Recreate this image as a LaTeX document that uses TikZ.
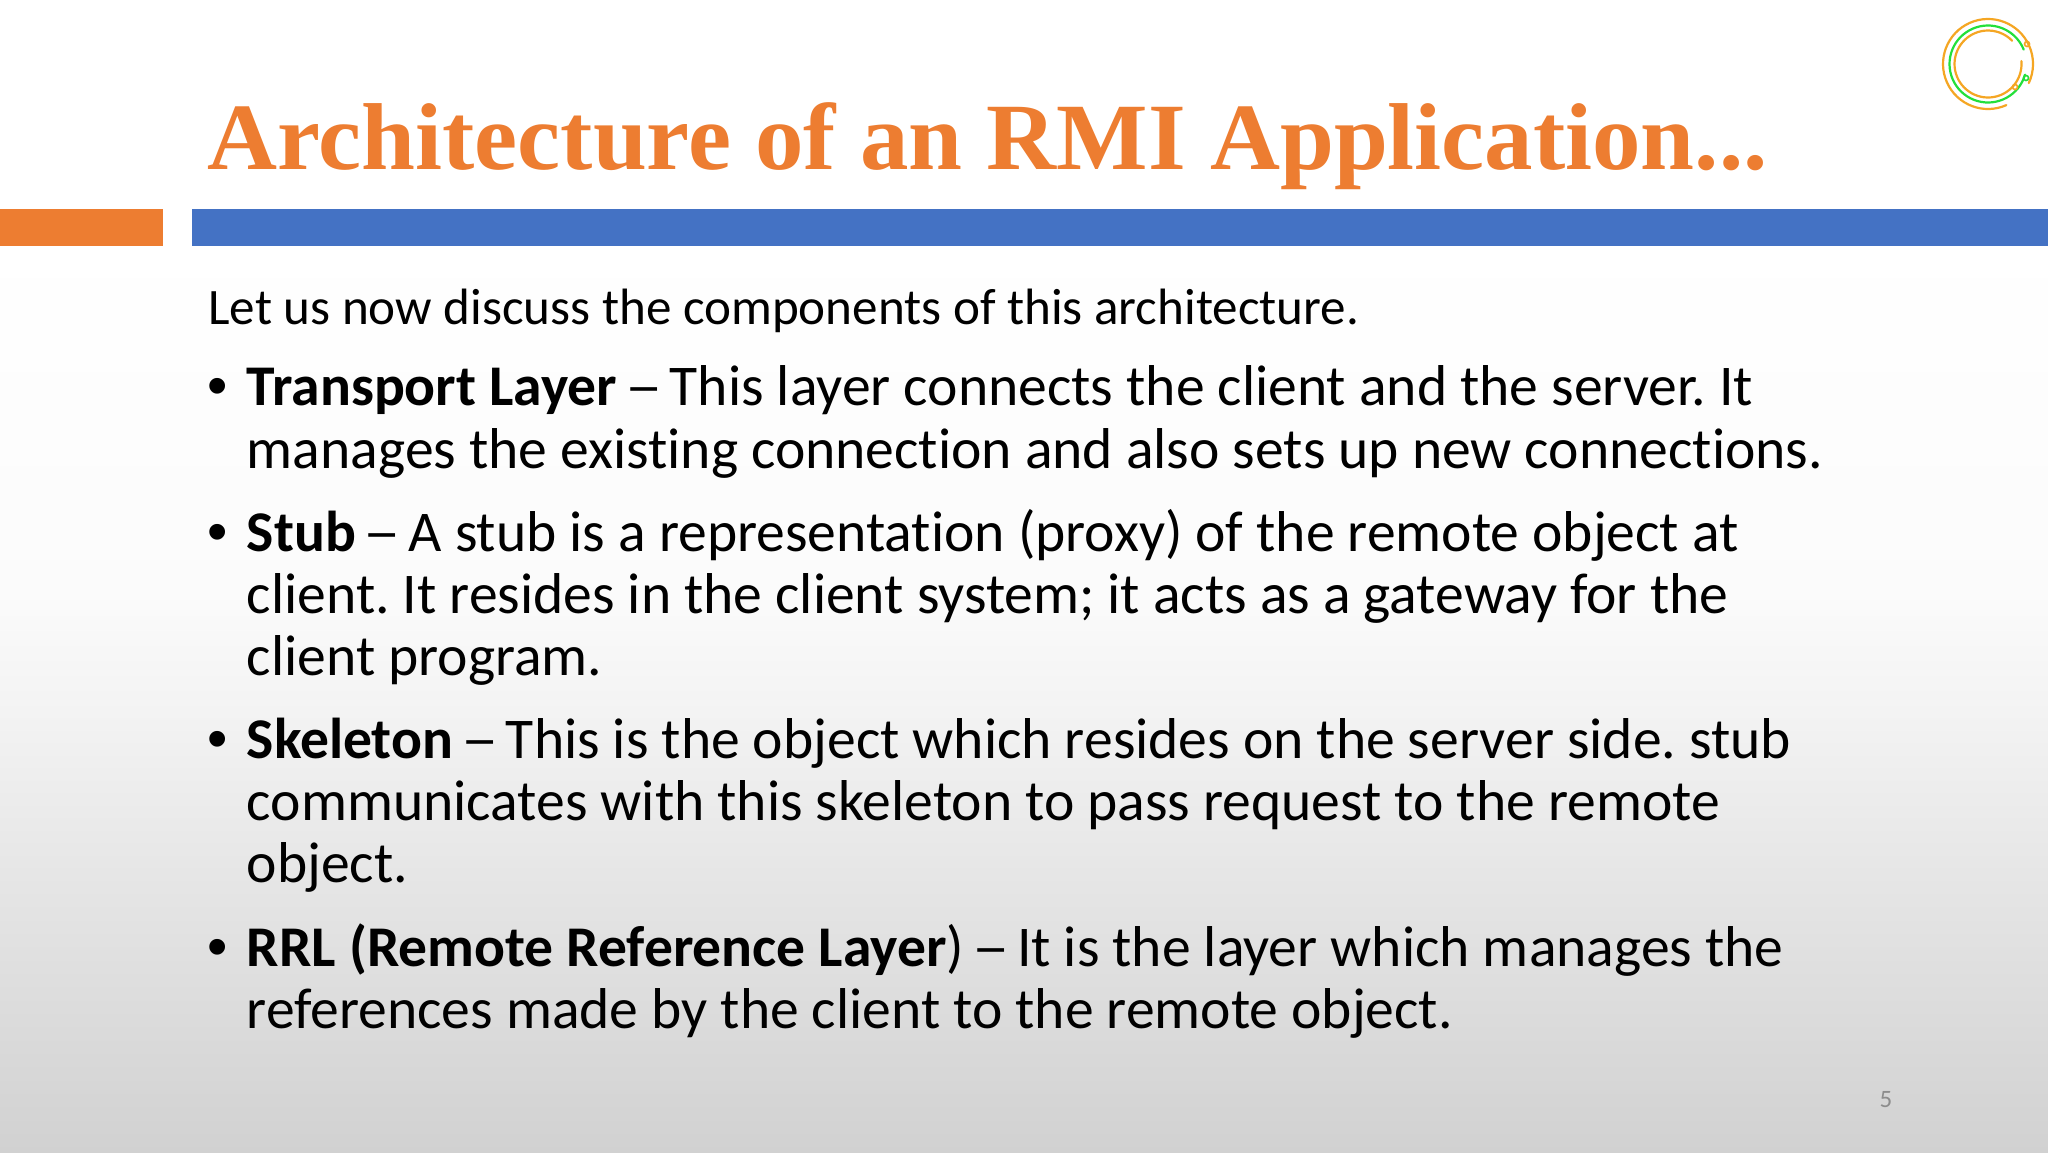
\documentclass[tikz,border=0pt]{standalone}
\usepackage{fontspec}
\setmainfont[Ligatures=NoCommon]{Carlito}
\newfontfamily\titlefont{Liberation Serif}
\newfontfamily\bulletfont{Liberation Sans}
\newcommand{\widedash}{\hspace{-2.5pt}\scalebox{1.3}[1]{–}\hspace{-2.8pt}}
\definecolor{slideorange}{HTML}{ED7D31}
\definecolor{slideblue}{HTML}{4472C4}
\definecolor{logoorange}{HTML}{F5A623}
\definecolor{logogreen}{HTML}{22E03A}
\definecolor{pagegray}{HTML}{8C8C8C}
\pgfdeclareverticalshading{slidefade}{100bp}{color(0bp)=(black!18); color(25bp)=(black!18); color(36.8bp)=(black!10); color(44.4bp)=(black!4.5); color(49.4bp)=(black!1.5); color(65bp)=(white); color(100bp)=(white)}
\tikzset{
  bodyline/.style={anchor=base west,inner sep=0pt,font=\frenchspacing\fontsize{28.8}{32}\selectfont},
  introline/.style={anchor=base west,inner sep=0pt,font=\fontsize{25.55}{30}\selectfont},
  bulletmark/.style={anchor=base west,inner sep=0pt,font=\bulletfont\fontsize{29}{30}\selectfont},
  logoarc/.style={line width=1.1pt,line cap=round}
}
\begin{document}
\begin{tikzpicture}[x=0.5pt,y=-0.5pt]
    \useasboundingbox (0,0) rectangle (2048,1152);
    \shade[shading=slidefade] (0,0) rectangle (2048,1152);
    % bars
    \fill[slideorange] (0,209) rectangle (163,246);
    \fill[slideblue] (192,209) rectangle (2048,246);
    % title
    \node (title) [anchor=base west,inner sep=0pt,text=slideorange,xscale=1.02,font=\titlefont\bfseries\fontsize{47.5}{50}\selectfont] at (207,169) {Architecture of an RMI Application...};
    % logo
    \draw[logoarc,logoorange] (1988,64) ++(66:45) arc[start angle=66,end angle=385,radius=45];
    \draw[logoarc,logogreen] (1988,64) ++(16:38.5) arc[start angle=16,end angle=338,radius=38.5];
    \draw[logoarc,logoorange] (1988,64) ++(-5:33.5) arc[start angle=-5,end angle=316,radius=33.5];
    \draw[logoorange,line width=0.8pt] (2027,44) circle (2.5);
    \draw[logogreen,line width=0.8pt] (2026,78) circle (2.5);
    \draw[logoorange,line width=0.8pt] (2015,87) circle (2.5);
    % text
    \node (intro) [introline] at (208,324) {Let us now discuss the components of this architecture.};
    \node (bullet1) [bulletmark] at (207,405) {•};
    \node (transportA) [bodyline] at (246.5,405) {\textbf{Transport Layer} \widedash{} This layer connects the client and the server. It};
    \node (transportB) [bodyline] at (246.5,468) {manages the existing connection and also sets up new connections.};
    \node (bullet2) [bulletmark] at (207,551) {•};
    \node (stubA) [bodyline] at (246.5,551) {\textbf{Stub} \widedash{} A stub is a representation (proxy) of the remote object at};
    \node (stubB) [bodyline] at (246.5,613) {client. It resides in the client system; it acts as a gateway for the};
    \node (stubC) [bodyline] at (246.5,675) {client program.};
    \node (bullet3) [bulletmark] at (207,758) {•};
    \node (skeletonA) [bodyline] at (246.5,758) {\textbf{Skeleton} \widedash{} This is the object which resides on the server side. stub};
    \node (skeletonB) [bodyline] at (246.5,820) {communicates with this skeleton to pass request to the remote};
    \node (skeletonC) [bodyline] at (246.5,882) {object.};
    \node (bullet4) [bulletmark] at (207,966) {•};
    \node (rrlA) [bodyline] at (246.5,966) {\textbf{RRL (Remote Reference Layer}) \widedash{} It is the layer which manages the};
    \node (rrlB) [bodyline] at (246.5,1028) {references made by the client to the remote object.};
    \node (pagenum) [anchor=base,inner sep=0pt,text=pagegray,font=\fontsize{12.5}{14}\selectfont] at (1886,1107) {5};
\end{tikzpicture}
\end{document}
